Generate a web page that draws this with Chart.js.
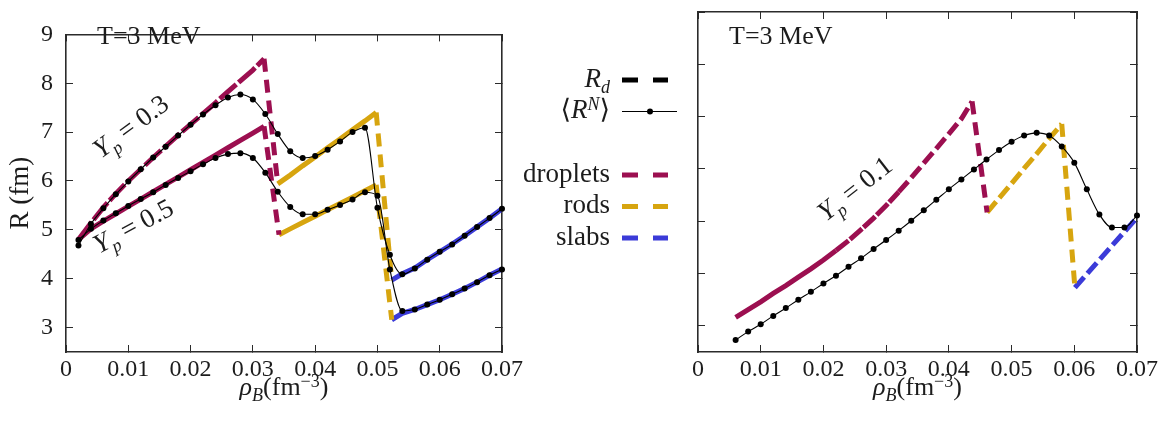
<!DOCTYPE html>
<html>
<head>
<meta charset="utf-8">
<script src="https://cdn.jsdelivr.net/npm/chart.js@4.4.1/dist/chart.umd.min.js"></script>
<style>
  html, body { margin: 0; padding: 0; background: #fff; }
  body { width: 1176px; height: 423px; position: relative; overflow: hidden; }
  canvas { position: absolute; top: 0; }
  #left { left: 0; }
  #right { left: 505px; }
</style>
</head>
<body>
<canvas id="left" width="540" height="423"></canvas>
<canvas id="right" width="671" height="423"></canvas>
<script>
// ---- axis ticks ----
const xTicks = [0, 0.01, 0.02, 0.03, 0.04, 0.05, 0.06, 0.07];
const yTicks = [3, 4, 5, 6, 7, 8, 9];

// ---- left panel: <R^N> (points) for Yp = 0.3 and Yp = 0.5 ----
const rhoLeft = [0.002, 0.004, 0.006, 0.008, 0.010, 0.012, 0.014, 0.016, 0.018, 0.020,
                 0.022, 0.024, 0.026, 0.028, 0.030, 0.032, 0.034, 0.036, 0.038, 0.040,
                 0.042, 0.044, 0.046, 0.048, 0.050, 0.052, 0.054, 0.056, 0.058, 0.060,
                 0.062, 0.064, 0.066, 0.068, 0.070];
const rnYp03 = [4.68, 5.12, 5.44, 5.73, 5.99, 6.24, 6.48, 6.70, 6.93, 7.15,
                7.36, 7.55, 7.71, 7.77, 7.67, 7.37, 6.96, 6.61, 6.47, 6.51,
                6.64, 6.81, 7.00, 7.09, 5.45, 4.49, 4.09, 4.21, 4.39, 4.55,
                4.70, 4.88, 5.06, 5.24, 5.43];
const rnYp05 = [4.79, 5.02, 5.19, 5.34, 5.49, 5.63, 5.77, 5.92, 6.06, 6.20,
                6.34, 6.47, 6.55, 6.57, 6.47, 6.17, 5.78, 5.47, 5.32, 5.32,
                5.41, 5.51, 5.62, 5.77, 5.70, 4.19, 3.34, 3.37, 3.47, 3.57,
                3.68, 3.80, 3.93, 4.07, 4.19];

// ---- left panel: R_d by pasta phase, Yp = 0.3 ----
const dropX03 = [0.002, 0.004, 0.006, 0.008, 0.010, 0.012, 0.014, 0.016, 0.018, 0.020,
                 0.022, 0.024, 0.026, 0.028, 0.030, 0.0318, 0.0340];
const dropY03 = [4.80, 5.14, 5.46, 5.74, 6.00, 6.24, 6.48, 6.71, 6.94, 7.16,
                 7.38, 7.60, 7.83, 8.05, 8.27, 8.50, 5.94];
const rodX03 = [0.0340, 0.036, 0.038, 0.040, 0.042, 0.044, 0.046, 0.048, 0.0498, 0.0523];
const rodY03 = [5.94, 6.12, 6.31, 6.49, 6.68, 6.86, 7.05, 7.23, 7.40, 3.97];
const slabX03 = [0.0523, 0.054, 0.056, 0.058, 0.060, 0.062, 0.064, 0.066, 0.068, 0.070];
const slabY03 = [3.97, 4.10, 4.22, 4.39, 4.55, 4.71, 4.88, 5.06, 5.24, 5.43];

// ---- left panel: R_d by pasta phase, Yp = 0.5 ----
const dropX05 = [0.002, 0.004, 0.006, 0.008, 0.010, 0.012, 0.014, 0.016, 0.018, 0.020,
                 0.022, 0.024, 0.026, 0.028, 0.030, 0.0318, 0.0342];
const dropY05 = [4.80, 5.02, 5.18, 5.33, 5.48, 5.63, 5.78, 5.93, 6.08, 6.23,
                 6.38, 6.53, 6.68, 6.83, 6.98, 7.12, 4.90];
const rodX05 = [0.0342, 0.036, 0.038, 0.040, 0.042, 0.044, 0.046, 0.048, 0.0498, 0.0523];
const rodY05 = [4.90, 5.02, 5.15, 5.28, 5.41, 5.54, 5.67, 5.80, 5.92, 3.16];
const slabX05 = [0.0523, 0.054, 0.056, 0.058, 0.060, 0.062, 0.064, 0.066, 0.068, 0.070];
const slabY05 = [3.16, 3.29, 3.37, 3.47, 3.57, 3.68, 3.80, 3.93, 4.07, 4.20];

// ---- right panel: Yp = 0.1 ----
const rhoRight = [0.006, 0.008, 0.010, 0.012, 0.014, 0.016, 0.018, 0.020, 0.022, 0.024,
                  0.026, 0.028, 0.030, 0.032, 0.034, 0.036, 0.038, 0.040, 0.042, 0.044,
                  0.046, 0.048, 0.050, 0.052, 0.054, 0.056, 0.058, 0.060, 0.062, 0.064,
                  0.066, 0.068, 0.070];
const rnYp01 = [2.73, 2.89, 3.03, 3.19, 3.34, 3.50, 3.65, 3.81, 3.96, 4.13,
                4.29, 4.47, 4.64, 4.82, 5.01, 5.21, 5.41, 5.61, 5.80, 5.99,
                6.18, 6.36, 6.52, 6.64, 6.69, 6.64, 6.43, 6.12, 5.61, 5.13,
                4.88, 4.88, 5.11];
const dropX01 = [0.006, 0.008, 0.010, 0.012, 0.014, 0.016, 0.018, 0.020, 0.022, 0.024,
                 0.026, 0.028, 0.030, 0.032, 0.034, 0.036, 0.038, 0.040, 0.042, 0.0437, 0.0461];
const dropY01 = [3.16, 3.31, 3.46, 3.62, 3.77, 3.93, 4.09, 4.26, 4.44, 4.63,
                 4.84, 5.06, 5.30, 5.56, 5.83, 6.11, 6.39, 6.67, 6.96, 7.29, 5.17];
const rodX01 = [0.0461, 0.048, 0.050, 0.052, 0.054, 0.056, 0.058, 0.0601];
const rodY01 = [5.17, 5.44, 5.72, 6.01, 6.29, 6.58, 6.86, 3.73];
const slabX01 = [0.0601, 0.062, 0.064, 0.066, 0.068, 0.070];
const slabY01 = [3.73, 3.99, 4.26, 4.53, 4.80, 5.07];

// ---- styling ----
const SERIF = '"Liberation Serif", "DejaVu Serif", serif';
const TXT = '#1c1c1c';
const AXIS = '#2b2b2b';
const MAG = '#9c0f50';
const GOLD = '#d7a50f';
const BLUE = '#3b3bd8';
const DROP_DASH = [13, 8];
const RIGHT_OFFSET = 505;   // page x of the right canvas

const pts = (xs, ys) => xs.map((x, i) => ({ x, y: ys[i] }));

// steep (phase transition) segments are dashed; the rest follows a per-curve rule
function dashRule(rule) {
  return ctx => {
    const dx = Math.abs(ctx.p1.x - ctx.p0.x);
    const dy = Math.abs(ctx.p1.y - ctx.p0.y);
    if (dy > 3 * dx) return DROP_DASH;
    return rule(ctx.p0.parsed.x);
  };
}

function rdSet(label, xs, ys, color, rule) {
  return {
    label, data: pts(xs, ys), borderColor: color, backgroundColor: color,
    borderWidth: 5, borderCapStyle: 'butt', borderJoinStyle: 'miter',
    pointRadius: 0, tension: 0, order: 2,
    segment: { borderDash: dashRule(rule) }
  };
}

function rnSet(label, xs, ys) {
  return {
    label, data: pts(xs, ys), borderColor: '#000', backgroundColor: '#000',
    borderWidth: 1.1, pointRadius: 3, pointBorderWidth: 0, pointBackgroundColor: '#000',
    cubicInterpolationMode: 'monotone', clip: false, order: 0
  };
}

const solid = () => [];

function axisX(pos, showLabels) {
  return {
    type: 'linear', position: pos, min: 0, max: 0.07,
    afterBuildTicks: a => { a.ticks = xTicks.map(v => ({ value: v })); },
    afterFit: a => { a.height = pos === 'bottom' ? 71 : 0; },
    grid: { drawOnChartArea: false, drawTicks: true, tickLength: -7, color: AXIS, lineWidth: 1 },
    border: { display: true, color: AXIS, width: 1.6 },
    ticks: {
      display: showLabels, padding: 10, maxRotation: 0, autoSkip: false,
      font: { family: SERIF, size: 24 }, color: TXT,
      callback: v => (v === 0 ? '0' : v.toFixed(2))
    }
  };
}

function axisY(pos, showLabels, width, title) {
  return {
    type: 'linear', position: pos, min: 2.5, max: 9,
    afterBuildTicks: a => { a.ticks = yTicks.map(v => ({ value: v })); },
    afterFit: a => { a.width = width; },
    grid: { drawOnChartArea: false, drawTicks: true, tickLength: -7, color: AXIS, lineWidth: 1 },
    border: { display: true, color: AXIS, width: 1.6 },
    ticks: {
      display: showLabels, padding: 20, autoSkip: false,
      font: { family: SERIF, size: 24 }, color: TXT,
      callback: v => String(v)
    },
    title: title ? { display: true, text: title, font: { family: SERIF, size: 27 }, color: TXT, padding: { top: 5, bottom: 0 } }
                 : { display: false }
  };
}

// text with italic pieces and sub/superscripts
function drawRich(ctx, parts, x, y, size, align) {
  const small = Math.round(size * 0.68);
  let w = 0;
  const spans = parts.map(p => {
    const s = p.s ? small : size;
    const f = (p.i ? 'italic ' : '') + s + 'px ' + SERIF;
    ctx.font = f;
    const span = { t: p.t, f, dx: w, dy: p.s === -1 ? size * 0.24 : p.s === 1 ? -size * 0.3 : 0 };
    w += ctx.measureText(p.t).width;
    return span;
  });
  const x0 = align === 'right' ? x - w : align === 'center' ? x - w / 2 : x;
  ctx.textAlign = 'left';
  ctx.textBaseline = 'alphabetic';
  ctx.fillStyle = TXT;
  spans.forEach(sp => { ctx.font = sp.f; ctx.fillText(sp.t, x0 + sp.dx, y + sp.dy); });
}

function drawRotated(ctx, parts, x, y, deg, size) {
  ctx.save();
  ctx.translate(x, y);
  ctx.rotate(deg * Math.PI / 180);
  drawRich(ctx, parts, 0, 0, size, 'left');
  ctx.restore();
}

const rhoTitle = [{ t: 'ρ', i: true }, { t: 'B', i: true, s: -1 }, { t: '(fm' }, { t: '−3', s: 1 }, { t: ')' }];
const ypLabel = v => [{ t: 'Y', i: true }, { t: 'p', i: true, s: -1 }, { t: ' = ' + v }];

function panelText(extra) {
  return {
    id: 'panelText',
    afterDraw(chart) {
      const { ctx, chartArea } = chart;
      ctx.save();
      drawRich(ctx, [{ t: 'T=3 MeV' }], chartArea.left + 31, 44, 26, 'left');
      drawRich(ctx, rhoTitle, (chartArea.left + chartArea.right) / 2, 395, 26, 'center');
      extra(ctx, chart);
      ctx.restore();
    }
  };
}

// ---- left chart ----
new Chart(document.getElementById('left'), {
  type: 'line',
  data: {
    datasets: [
      rnSet('<R^N> Yp=0.3', rhoLeft, rnYp03),
      rnSet('<R^N> Yp=0.5', rhoLeft, rnYp05),
      rdSet('droplets Yp=0.3', dropX03, dropY03, MAG, () => [22, 3]),
      rdSet('rods Yp=0.3', rodX03, rodY03, GOLD, solid),
      rdSet('slabs Yp=0.3', slabX03, slabY03, BLUE, solid),
      rdSet('droplets Yp=0.5', dropX05, dropY05, MAG, solid),
      rdSet('rods Yp=0.5', rodX05, rodY05, GOLD, solid),
      rdSet('slabs Yp=0.5', slabX05, slabY05, BLUE, solid)
    ]
  },
  options: {
    responsive: false, animation: false, devicePixelRatio: 1,
    layout: { padding: { left: 0, top: 12, right: 38, bottom: 0 } },
    plugins: { legend: { display: false }, tooltip: { enabled: false } },
    scales: {
      x: axisX('bottom', true),
      x2: axisX('top', false),
      y: axisY('left', true, 66, 'R (fm)'),
      y2: axisY('right', false, 0, null)
    }
  },
  plugins: [panelText(ctx => {
    drawRotated(ctx, ypLabel('0.3'), 101, 159, -36.5, 27);
    drawRotated(ctx, ypLabel('0.5'), 99, 254, -28, 27);
  })]
});

// ---- legend between the panels (drawn on the right canvas) ----
function drawLegend(ctx, ox) {
  const textRight = 610 - ox, x0 = 622 - ox, x1 = 668 - ox;
  const dashed = (y, color) => {
    ctx.save();
    ctx.strokeStyle = color; ctx.lineWidth = 5; ctx.lineCap = 'butt';
    ctx.setLineDash([16, 15]);
    ctx.beginPath(); ctx.moveTo(x0, y); ctx.lineTo(x1, y); ctx.stroke();
    ctx.restore();
  };
  drawRich(ctx, [{ t: 'R', i: true }, { t: 'd', i: true, s: -1 }], textRight, 87, 27, 'right');
  dashed(80, '#000');
  drawRich(ctx, [{ t: '⟨' }, { t: 'R', i: true }, { t: 'N', i: true, s: 1 }, { t: '⟩' }], textRight, 118, 27, 'right');
  ctx.save();
  ctx.strokeStyle = '#000'; ctx.lineWidth = 1.1;
  ctx.beginPath(); ctx.moveTo(x0, 111.5); ctx.lineTo(677 - ox, 111.5); ctx.stroke();
  ctx.fillStyle = '#000';
  ctx.beginPath(); ctx.arc(650 - ox, 111.5, 3, 0, 2 * Math.PI); ctx.fill();
  ctx.restore();
  drawRich(ctx, [{ t: 'droplets' }], textRight, 182, 27, 'right');
  dashed(175, MAG);
  drawRich(ctx, [{ t: 'rods' }], textRight, 213, 27, 'right');
  dashed(206.5, GOLD);
  drawRich(ctx, [{ t: 'slabs' }], textRight, 245, 27, 'right');
  dashed(238, BLUE);
}

// ---- right chart ----
new Chart(document.getElementById('right'), {
  type: 'line',
  data: {
    datasets: [
      rnSet('<R^N> Yp=0.1', rhoRight, rnYp01),
      rdSet('droplets Yp=0.1', dropX01, dropY01, MAG, x => (x < 0.0205 ? [] : x < 0.031 ? [16, 2] : [14, 5])),
      rdSet('rods Yp=0.1', rodX01, rodY01, GOLD, () => [14, 5]),
      rdSet('slabs Yp=0.1', slabX01, slabY01, BLUE, () => [14, 5])
    ]
  },
  options: {
    responsive: false, animation: false, devicePixelRatio: 1,
    layout: { padding: { left: 0, top: 12, right: 39, bottom: 0 } },
    plugins: { legend: { display: false }, tooltip: { enabled: false } },
    scales: {
      x: axisX('bottom', true),
      x2: axisX('top', false),
      y: axisY('left', false, 698 - RIGHT_OFFSET, null),
      y2: axisY('right', false, 0, null)
    }
  },
  plugins: [panelText(ctx => {
    drawRotated(ctx, ypLabel('0.1'), 826 - RIGHT_OFFSET, 222, -38, 27);
    drawLegend(ctx, RIGHT_OFFSET);
  })]
});
</script>
</body>
</html>
